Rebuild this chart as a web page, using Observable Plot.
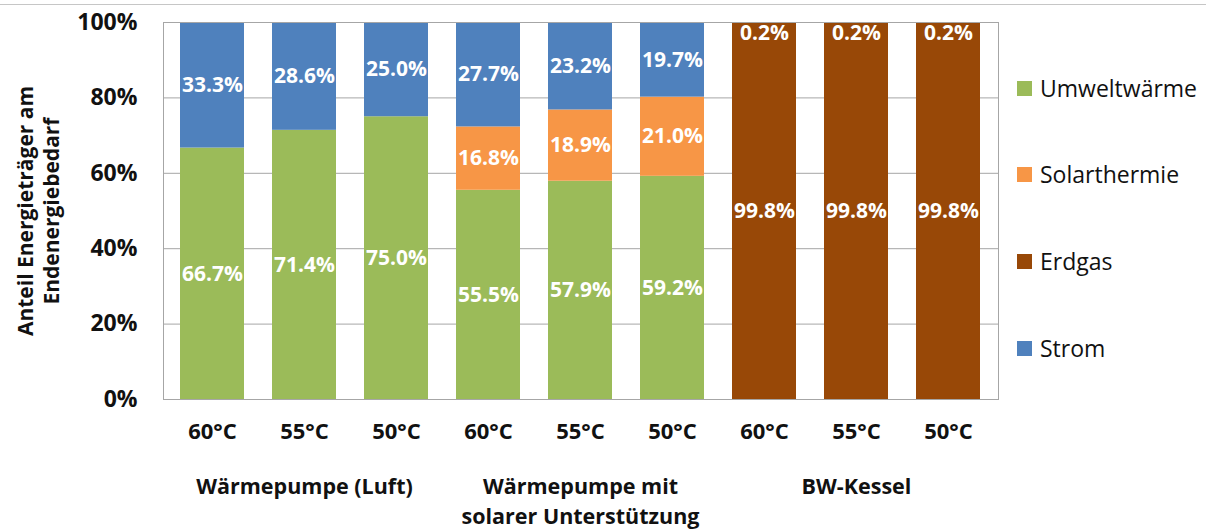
<!DOCTYPE html>
<html>
<head>
<meta charset="utf-8">
<script src="https://cdn.jsdelivr.net/npm/d3@7"></script>
<script src="https://cdn.jsdelivr.net/npm/@observablehq/plot@0.6"></script>
<style>
  body { margin: 0; background: #fff; }
  #wrap { position: relative; width: 1206px; height: 529px; overflow: hidden; font-family: "Open Sans", Lato, sans-serif; }
  #topline { position: absolute; left: 0; right: 0; top: 4px; height: 0; border-top: 1px solid #c6c6c6; }
  #legend { position: absolute; left: 1017px; top: 0; }
  .item { position: absolute; left: 0; display: flex; align-items: center; white-space: nowrap; font-size: 23px; color: #111; transform: translateY(-50%); }
  .sw { width: 15px; height: 15px; margin-right: 8px; flex: none; }
</style>
</head>
<body>
<div id="wrap">
  <div id="topline"></div>
  <div id="chart"></div>
  <div id="legend"></div>
</div>
<script>
// Heating systems and their supply temperatures
const groups = ["Wärmepumpe (Luft)", "Wärmepumpe mit\nsolarer Unterstützung", "BW-Kessel"];
const temps = ["60°C", "55°C", "50°C"];

// Energy carriers, stacked bottom to top
const series = ["Umweltwärme", "Solarthermie", "Erdgas", "Strom"];
const colors = ["#9BBB59", "#F79646", "#984807", "#4F81BD"];

// Share of final energy demand (%), one value per bar
const umweltwaerme = [66.7, 71.4, 75.0, 55.5, 57.9, 59.2, 0, 0, 0];
const solarthermie = [0, 0, 0, 16.8, 18.9, 21.0, 0, 0, 0];
const erdgas       = [0, 0, 0, 0, 0, 0, 99.8, 99.8, 99.8];
const strom        = [33.3, 28.6, 25.0, 27.7, 23.2, 19.7, 0.2, 0.2, 0.2];

const yTicks = [0, 20, 40, 60, 80, 100];
const yTitle = "Anteil Energieträger am\nEndenergiebedarf";

// bar keys: group index | temperature
const keys = groups.flatMap((g, gi) => temps.map(t => `${gi}|${t}`));
const valuesBySeries = [umweltwaerme, solarthermie, erdgas, strom];

const rows = [];
keys.forEach((k, i) => {
  let base = 0;
  series.forEach((s, si) => {
    const v = valuesBySeries[si][i];
    if (v > 0) {
      rows.push({key: k, series: s, value: v, mid: base + v / 2});
      base += v;
    }
  });
});
const bigLabels = rows.filter(d => d.value >= 3);
const smallLabels = rows.filter(d => d.value < 3);
const groupRows = groups.map((g, gi) => ({key: `${gi}|${temps[1]}`, label: g}));

const chart = Plot.plot({
  width: 1206,
  height: 529,
  marginLeft: 163,
  marginRight: 208,
  marginTop: 22,
  marginBottom: 130,
  style: {fontFamily: "'Open Sans', Lato, sans-serif", fontSize: "20px", fontWeight: "bold", color: "#111", background: "transparent"},
  x: {domain: keys, paddingInner: 0.3, paddingOuter: 0.15, label: null},
  y: {domain: [0, 100], label: null},
  color: {domain: series, range: colors},
  marks: [
    Plot.gridY(yTicks, {stroke: "#a6a6a6", strokeOpacity: 1}),
    Plot.barY(rows, {x: "key", y: "value", fill: "series", order: series}),
    Plot.frame({stroke: "#a6a6a6"}),
    Plot.axisY(yTicks, {tickSize: 0, tickPadding: 26, tickFormat: d => d + "%", fontSize: 23, label: null}),
    Plot.axisX({tickSize: 0, tickPadding: 24, tickFormat: k => k.split("|")[1], fontSize: 22, label: null}),
    Plot.text(bigLabels, {x: "key", y: "mid", text: d => d.value.toFixed(1) + "%", fill: "white", fontSize: 21}),
    Plot.text(smallLabels, {x: "key", y: "mid", text: d => d.value.toFixed(1) + "%", fill: "white", fontSize: 21, dy: 10}),
    Plot.text(groupRows, {x: "key", text: "label", frameAnchor: "bottom", lineAnchor: "top", dy: 73, lineHeight: 1.4, fontSize: 21.5, fill: "#111"}),
    Plot.text([yTitle], {text: d => d, frameAnchor: "left", textAnchor: "middle", rotate: -90, dx: -126, lineHeight: 1.24, fontSize: 21, fill: "#111"})
  ]
});
document.getElementById("chart").appendChild(chart);

// legend: listed top to bottom in series order
const legendY = [88, 174, 261, 348];
const legend = document.getElementById("legend");
series.forEach((s, i) => {
  const item = document.createElement("div");
  item.className = "item";
  item.style.top = legendY[i] + "px";
  const sw = document.createElement("span");
  sw.className = "sw";
  sw.style.background = colors[i];
  const label = document.createElement("span");
  label.textContent = s;
  item.append(sw, label);
  legend.appendChild(item);
});
</script>
</body>
</html>
